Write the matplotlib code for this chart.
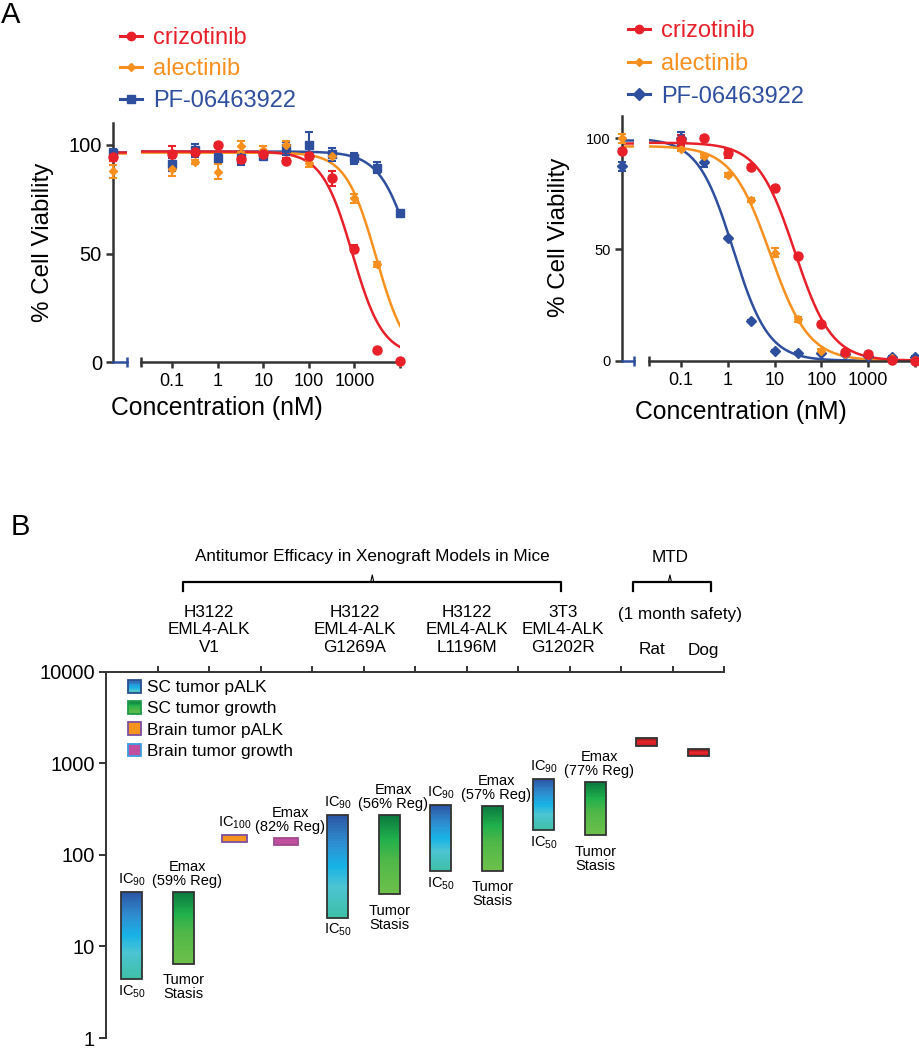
import numpy as np
import matplotlib
matplotlib.use("Agg")
import matplotlib.pyplot as plt
from matplotlib.colors import LinearSegmentedColormap
from matplotlib.patches import Rectangle, Patch
from matplotlib.lines import Line2D
from matplotlib.legend_handler import HandlerBase
from matplotlib.ticker import FixedLocator, NullLocator

plt.rcParams['font.family'] = ['Liberation Sans', 'DejaVu Sans']
plt.rcParams['mathtext.fontset'] = 'custom'
plt.rcParams['mathtext.rm'] = 'Liberation Sans'
plt.rcParams['mathtext.it'] = 'Liberation Sans:italic'
plt.rcParams['mathtext.bf'] = 'Liberation Sans:bold'

W, H = 919, 1050

# ---------------- panel A data ----------------
conc = [0.1, 0.316, 1, 3.16, 10, 31.6, 100, 316, 1000, 3160, 10000]
drugs = ["crizotinib", "alectinib", "PF-06463922"]
drugColors = {"crizotinib": "#e8202a", "alectinib": "#f7901e", "PF-06463922": "#2e4e9e"}

# left plot (resistant line)
crizoL = [96, 97, 100, 93.5, 96, 92.8, 95, 84.6, 52.3, 5.4, 0.3]
crizoLErr = [3.5, 1.5, 1, 2, 1, 1, 1.5, 3.5, 1.5, 0.5, 0.5]
alecL = [89, 92.3, 87.7, 99.5, 97.5, 100, 91.5, 95, 75.4, 45, 0]
alecLErr = [3.5, 1, 3.5, 2.5, 2, 2, 1.5, 1, 2, 1, 0.5]
pfL = [91.2, 97.5, 93.8, 93.8, 95, 98.5, 100, 95.8, 93.8, 89.5, 68.8]
pfLErr = [3, 3, 2, 3, 1.5, 3, 6, 3, 2.5, 2.5, 1]
ctrlL = [94.3, 88, 96.5]
ctrlLErr = [1.5, 3, 1.5]
# fitted curve parameters: top, bottom, IC50, hill
fitL = [(97, 3, 900, 1.3), (96.5, 0, 3000, 1.3), (97, 0, 20000, 1.2)]

# right plot
crizoR = [99, 100.3, 93.3, 87.2, 77.7, 47.2, 16.3, 3.7, 2.8, 0.5, 0]
crizoRErr = [2.5, 0.5, 2, 0.8, 0.8, 0.8, 0.8, 0.5, 0.5, 0.3, 0.3]
alecR = [95.2, 92, 83.5, 72.3, 48.5, 18.6, 4.3, 2.8, 2.5, 1, 0.3]
alecRErr = [1, 1, 1, 0.8, 2, 1, 1, 0.5, 0.5, 0.3, 0.3]
pfR = [100, 89.2, 55, 17.8, 4.3, 3.6, 3.3, 2.8, 2.2, 1.8, 1.8]
pfRErr = [3, 2, 0.5, 0.5, 0.5, 0.5, 0.5, 0.5, 0.5, 0.5, 0.5]
ctrlR = [94.3, 100, 87.3]
ctrlRErr = [1, 2, 2]
fitR = [(98, 0, 27, 1.1), (96.5, 0, 8, 1.05), (100, 0, 1.3, 1.15)]

xTickVals = [0.1, 1, 10, 100, 1000, 10000]
xTickLabels = ["0.1", "1", "10", "100", "1000", ""]

# ---------------- panel B data ----------------
barLow = [4.4, 6.5, 139, 128, 20.5, 37, 66, 67, 187, 164, 1549, 1200]
barHigh = [39, 39.5, 165, 151, 273, 273, 349, 343, 668, 625, 1884, 1435]
barKind = ["pALK", "growth", "brainPALK", "brainGrowth", "pALK", "growth",
           "pALK", "growth", "pALK", "growth", "mtd", "mtd"]
topLabels = ["IC$_{90}$", "Emax\n(59% Reg)", "IC$_{100}$", "Emax\n(82% Reg)",
             "IC$_{90}$", "Emax\n(56% Reg)", "IC$_{90}$", "Emax\n(57% Reg)",
             "IC$_{90}$", "Emax\n(77% Reg)", "", ""]
bottomLabels = ["IC$_{50}$", "Tumor\nStasis", "", "", "IC$_{50}$", "Tumor\nStasis",
                "IC$_{50}$", "Tumor\nStasis", "IC$_{50}$", "Tumor\nStasis", "", ""]
groupLabels = ["H3122\nEML4-ALK\nV1", "H3122\nEML4-ALK\nG1269A",
               "H3122\nEML4-ALK\nL1196M", "3T3\nEML4-ALK\nG1202R"]
groupCenters = [2.0, 4.83, 7.0, 8.88]
speciesLabels = ["Rat", "Dog"]
speciesCenters = [10.6, 11.6]
yTicksB = [1, 10, 100, 1000, 10000]
legendB = ["SC tumor pALK", "SC tumor growth", "Brain tumor pALK", "Brain tumor growth"]


def rect(left, top, right, bottom):
    return [left / W, 1 - bottom / H, (right - left) / W, (bottom - top) / H]


def logistic(x, top, bottom, ic50, hill):
    return bottom + (top - bottom) / (1 + (x / ic50) ** hill)


axColor = "#333333"
fig = plt.figure(figsize=(W / 100, H / 100), dpi=100)


def viabilityPanel(ctrlBox, mainBox, series, errs, ctrls, ctrlErrs, fits, markers,
                   sizes, yTickSize):
    ctrlAx = fig.add_axes(rect(*ctrlBox))
    mainAx = fig.add_axes(rect(*mainBox))
    xlo = 10 ** -1.685
    xs = np.geomspace(xlo, 10000, 300)
    order = [2, 1, 0]
    for i in order:
        c = drugColors[drugs[i]]
        mainAx.plot(xs, logistic(xs, *fits[i]), color=c, lw=1.8, zorder=2)
        ctrlAx.plot([0, 1], [logistic(xlo, *fits[i])] * 2, color=c, lw=1.8, zorder=2)
    for i in order:
        c = drugColors[drugs[i]]
        mainAx.errorbar(conc, series[i], yerr=errs[i], fmt=markers[i], ms=sizes[i],
                        color=c, ecolor=c, elinewidth=1.5, capsize=3, capthick=1.5,
                        clip_on=False, zorder=3)
        ctrlAx.errorbar([0], [ctrls[i]], yerr=[ctrlErrs[i]], fmt=markers[i], ms=sizes[i],
                        color=c, ecolor=c, elinewidth=1.5, capsize=3, capthick=1.5,
                        clip_on=False, zorder=3)

    for a in (ctrlAx, mainAx):
        a.set_ylim(0, 110)
        a.patch.set_visible(False)
        for s in ("top", "right"):
            a.spines[s].set_visible(False)
        a.spines["bottom"].set_linewidth(1.8)
        a.spines["bottom"].set_color(axColor)

    mainAx.spines["left"].set_visible(False)
    mainAx.set_yticks([])
    mainAx.set_xscale("log")
    mainAx.set_xlim(xlo, 10000)
    mainAx.xaxis.set_major_locator(FixedLocator(xTickVals))
    mainAx.set_xticklabels(xTickLabels)
    mainAx.xaxis.set_minor_locator(FixedLocator([xlo]))
    mainAx.tick_params(axis="x", which="major", direction="out", length=4, width=1.8,
                       color=axColor, labelsize=13, pad=4)
    mainAx.tick_params(axis="x", which="minor", direction="inout", length=7, width=1.8,
                       color=axColor)

    ctrlAx.set_xlim(0, 1)
    ctrlAx.set_xticks([1])
    ctrlAx.set_xticklabels([""])
    ctrlAx.spines["bottom"].set_color("#2e4e9e")
    ctrlAx.tick_params(axis="x", direction="inout", length=7, width=1.8, color="#2e4e9e")
    ctrlAx.spines["left"].set_linewidth(1.8)
    ctrlAx.spines["left"].set_color(axColor)
    ctrlAx.set_yticks([0, 50, 100])
    ctrlAx.tick_params(axis="y", direction="out", length=5, width=1.8, color=axColor,
                       labelsize=yTickSize, pad=3)
    return ctrlAx, mainAx


cL, mL = viabilityPanel((113, 123.3, 127, 362), (141, 123.3, 400, 362),
                        [crizoL, alecL, pfL], [crizoLErr, alecLErr, pfLErr],
                        ctrlL, ctrlLErr, fitL, ["o", "D", "s"], [6.5, 4, 6], 14.5)
cR, mR = viabilityPanel((621.7, 116, 634, 360.7), (649, 116, 915, 360.7),
                        [crizoR, alecR, pfR], [crizoRErr, alecRErr, pfRErr],
                        ctrlR, ctrlRErr, fitR, ["o", "D", "D"], [6.5, 4, 5], 10.5)

fig.text(43 / W, 1 - 242 / H, "% Cell Viability", rotation=90, fontsize=17.4,
         ha="center", va="center")
fig.text(559 / W, 1 - 237 / H, "% Cell Viability", rotation=90, fontsize=17.4,
         ha="center", va="center")
fig.text(217 / W, 1 - 408 / H, "Concentration (nM)", fontsize=17.8, ha="center", va="center")
fig.text(741 / W, 1 - 412 / H, "Concentration (nM)", fontsize=17.8, ha="center", va="center")

# panel A legends
for ax, anchor, mk, sp in ((mL, (120, 27), ["o", "D", "s"], 0.4),
                           (mR, (628, 20), ["o", "D", "D"], 0.46)):
    handles = [Line2D([], [], color=drugColors[d], marker=mk[i], ms=6 if i != 1 else 4,
                      lw=2.2) for i, d in enumerate(drugs)]
    fig.legend(handles, drugs, loc="upper left",
               bbox_to_anchor=(anchor[0] / W, 1 - anchor[1] / H),
               frameon=False, fontsize=17, labelcolor="linecolor", handlelength=0.95,
               handletextpad=0.45, labelspacing=sp, borderpad=0, borderaxespad=0)

fig.text(1 / W, 1 - 23 / H, "A", fontsize=21, va="baseline", ha="left")
fig.text(11 / W, 1 - 535 / H, "B", fontsize=21, va="baseline", ha="left")

# ---------------- panel B ----------------
cmaps = {
    "pALK": LinearSegmentedColormap.from_list("b", [(0, "#3fc0a8"), (0.3, "#4cc4d2"),
                                                    (0.5, "#18b3e6"), (0.75, "#2f8bce"),
                                                    (1, "#2b58a6")]),
    "growth": LinearSegmentedColormap.from_list("g", [(0, "#6dc04a"), (0.45, "#4db748"),
                                                      (0.7, "#20b04c"), (1, "#0b7a3e")]),
    "brainPALK": LinearSegmentedColormap.from_list("o", ["#f7941d", "#f7941d"]),
    "brainGrowth": LinearSegmentedColormap.from_list("m", ["#c04f9f", "#c04f9f"]),
    "mtd": LinearSegmentedColormap.from_list("r", [(0, "#c81c22"), (0.5, "#e8262c"),
                                                   (1, "#8e1616")]),
}
edges = {"pALK": "#333333", "growth": "#333333", "brainPALK": "#7b4fa0",
         "brainGrowth": "#a04a90", "mtd": "#333333"}
widths = {"pALK": 0.4, "growth": 0.4, "brainPALK": 0.48, "brainGrowth": 0.46, "mtd": 0.4}

axB = fig.add_axes(rect(106, 671.7, 724, 1038))
axB.set_yscale("log")
axB.set_ylim(1, 10000)
axB.set_xlim(0, 12)
for i in range(len(barLow)):
    k = barKind[i]
    w = widths[k]
    x0 = i + 0.5 - w / 2
    ys = np.geomspace(barLow[i], barHigh[i], 40)
    cvals = np.linspace(0, 1, len(ys) - 1).reshape(-1, 1)
    axB.pcolormesh([x0, x0 + w], ys, cvals, cmap=cmaps[k], vmin=0, vmax=1, shading="flat")
    axB.add_patch(Rectangle((x0, barLow[i]), w, barHigh[i] - barLow[i], facecolor="none",
                            edgecolor=edges[k], lw=1.3))
    dx = 3 if topLabels[i].startswith("Emax") else 0
    if topLabels[i]:
        axB.annotate(topLabels[i], (i + 0.5, barHigh[i]), xytext=(dx, 3),
                     textcoords="offset points", ha="center", va="bottom", fontsize=10.5,
                     linespacing=1.0)
    if bottomLabels[i]:
        gap = -7 if bottomLabels[i].startswith("Tumor") else -3
        axB.annotate(bottomLabels[i], (i + 0.5, barLow[i]), xytext=(0, gap),
                     textcoords="offset points", ha="center", va="top", fontsize=10.5,
                     linespacing=1.0)

for s in ("bottom", "right"):
    axB.spines[s].set_visible(False)
for s in ("top", "left"):
    axB.spines[s].set_linewidth(1.4)
    axB.spines[s].set_color(axColor)
axB.xaxis.set_ticks_position("top")
axB.set_xticks(range(1, 13))
axB.set_xticklabels([])
axB.tick_params(axis="x", direction="out", length=4, width=1.4, color=axColor)
axB.yaxis.set_major_locator(FixedLocator(yTicksB))
axB.yaxis.set_minor_locator(NullLocator())
axB.set_yticklabels([str(v) for v in yTicksB])
axB.tick_params(axis="y", direction="out", length=5, width=1.4, color=axColor,
                labelsize=14.5, pad=3)

# legend with gradient squares
class GradientSquare(HandlerBase):
    def __init__(self, cmap, edge):
        super().__init__()
        self.cmap = cmap
        self.edge = edge

    def create_artists(self, legend, orig_handle, xdescent, ydescent, width, height,
                       fontsize, trans):
        arts = []
        n = 10
        for k in range(n):
            arts.append(Rectangle((-xdescent, -ydescent + height * k / n), width, height / n,
                                  facecolor=self.cmap(0.15 + 0.85 * (k + 0.5) / n),
                                  edgecolor="none", transform=trans))
        arts.append(Rectangle((-xdescent, -ydescent), width, height, facecolor="none",
                              edgecolor=self.edge, lw=1.3, transform=trans))
        return arts


legKinds = ["pALK", "growth", "brainPALK", "brainGrowth"]
legEdges = ["#2a4f8f", "#1f9a4a", "#7b4fa0", "#3a9ee0"]
legHandles = [Patch() for _ in legKinds]
hmap = {h: GradientSquare(cmaps[k], e) for h, k, e in zip(legHandles, legKinds, legEdges)}
axB.legend(legHandles, legendB, handler_map=hmap, loc="upper left",
           bbox_to_anchor=(127.7 / W, 1 - 680 / H), bbox_transform=fig.transFigure,
           frameon=False, fontsize=12.4, handlelength=0.78, handleheight=0.75,
           handletextpad=0.35, labelspacing=0.34, borderpad=0, borderaxespad=0)

# header with group names and braces
hd = fig.add_axes(rect(106, 540, 724, 671.7))
hd.set_xlim(0, 12)
hd.set_ylim(671.7, 540)
hd.axis("off")
for lab, xc in zip(groupLabels, groupCenters):
    hd.text(xc, 630, lab, ha="center", va="center", fontsize=12.3, linespacing=1.2)
hd.text(11.14, 615, "(1 month safety)", ha="center", va="center", fontsize=12.3)
for lab, xc in zip(speciesLabels, speciesCenters):
    hd.text(xc, 650, lab, ha="center", va="center", fontsize=12.3)
hd.text(5.17, 557, "Antitumor Efficacy in Xenograft Models in Mice", ha="center",
        va="center", fontsize=12.3)
hd.text(10.95, 557, "MTD", ha="center", va="center", fontsize=12.3)


def brace(x0, x1, xc):
    hd.plot([x0, x0, x1, x1], [591, 582, 582, 591], color="black", lw=1.6,
            solid_joinstyle="round", clip_on=False)
    hd.plot([xc - 0.03, xc, xc + 0.03], [582, 575, 582], color="black", lw=0.8,
            clip_on=False)


brace(1.49, 8.83, 5.17)
brace(10.24, 11.75, 10.95)

fig.savefig("out.png", dpi=100)
